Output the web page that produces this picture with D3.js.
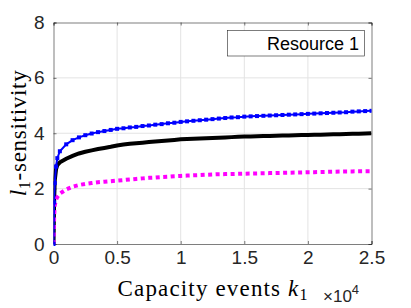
<!DOCTYPE html>
<html>
<head>
<meta charset="utf-8">
<script src="https://cdn.jsdelivr.net/npm/d3@7"></script>
<style>
  body { margin: 0; background: #fff; }
  svg { display: block; }
</style>
</head>
<body>
<div class="canvas"></div>
<script>
// capacity events k1 (raw counts, axis shows them x 10^4)
var kEvents = [0, 50, 100, 200, 300,
  500, 1000, 1500, 2000, 2500, 3000, 3500, 4000, 4500, 5000,
  5500, 6000, 6500, 7000, 7500, 8000, 8500, 9000, 9500, 10000,
  10500, 11000, 11500, 12000, 12500, 13000, 13500, 14000, 14500, 15000,
  15500, 16000, 16500, 17000, 17500, 18000, 18500, 19000, 19500, 20000,
  20500, 21000, 21500, 22000, 22500, 23000, 23500, 24000, 24500, 25000];

// l1-sensitivity, three curves
var blueVals = [0, 1.5, 2.2, 2.8, 3.1,
  3.35, 3.6, 3.75, 3.85, 3.93, 3.99, 4.04, 4.08, 4.12, 4.16,
  4.18, 4.21, 4.23, 4.26, 4.28, 4.31, 4.33, 4.36, 4.38, 4.41,
  4.43, 4.45, 4.47, 4.49, 4.51, 4.53, 4.55, 4.57, 4.58, 4.6,
  4.61, 4.62, 4.63, 4.64, 4.65, 4.66, 4.67, 4.68, 4.69, 4.7,
  4.71, 4.72, 4.73, 4.74, 4.75, 4.76, 4.78, 4.79, 4.8, 4.81];
var blackVals = [0, 1.6, 2.3, 2.7, 2.85,
  2.95, 3.08, 3.18, 3.27, 3.33, 3.38, 3.43, 3.47, 3.51, 3.56,
  3.59, 3.62, 3.64, 3.66, 3.68, 3.7, 3.72, 3.74, 3.76, 3.78,
  3.79, 3.8, 3.81, 3.82, 3.83, 3.84, 3.85, 3.86, 3.87, 3.88,
  3.885, 3.89, 3.9, 3.905, 3.91, 3.915, 3.92, 3.93, 3.935, 3.94,
  3.945, 3.95, 3.955, 3.96, 3.965, 3.97, 3.98, 3.985, 3.99, 4.0];
var magentaVals = [0, 1.0, 1.4, 1.6, 1.7,
  1.82, 1.97, 2.07, 2.13, 2.17, 2.2, 2.23, 2.25, 2.27, 2.29,
  2.31, 2.33, 2.35, 2.37, 2.39, 2.4, 2.42, 2.43, 2.45, 2.46,
  2.47, 2.48, 2.49, 2.5, 2.51, 2.52, 2.525, 2.53, 2.535, 2.54,
  2.545, 2.55, 2.555, 2.56, 2.565, 2.57, 2.575, 2.58, 2.585, 2.59,
  2.595, 2.6, 2.605, 2.61, 2.615, 2.62, 2.622, 2.625, 2.628, 2.63];

var xTicks = [0, 5000, 10000, 15000, 20000, 25000];
var yTicks = [0, 2, 4, 6, 8];
var legendLabel = "Resource 1";

var svgWidth = 411, svgHeight = 308;
// plot box edges (note: "top" is taken by window.top, so use px names)
var pxLeft = 53.5, pxRight = 371.5, pxTop = 22.5, pxBottom = 244;
var axisColor = "#262626";
var sans = "'Liberation Sans', Arial, sans-serif";
var serif = "'Liberation Serif', 'Times New Roman', serif";

const svg = d3.select(".canvas").append("svg")
    .attr("width", svgWidth)
    .attr("height", svgHeight);

var x = d3.scaleLinear().domain([0, 25000]).range([pxLeft, pxRight]);
var y = d3.scaleLinear().domain([0, 8]).range([pxBottom, pxTop]);

// grid lines
svg.append("g").selectAll("line")
    .data(xTicks.slice(1, -1))
    .enter().append("line")
    .attr("x1", d => x(d)).attr("x2", d => x(d))
    .attr("y1", pxTop).attr("y2", pxBottom)
    .attr("stroke", "#e3e3e3").attr("stroke-width", 1);
svg.append("g").selectAll("line")
    .data(yTicks.slice(1, -1))
    .enter().append("line")
    .attr("y1", d => y(d)).attr("y2", d => y(d))
    .attr("x1", pxLeft).attr("x2", pxRight)
    .attr("stroke", "#e3e3e3").attr("stroke-width", 1);

// axes (ticks point inward like matlab)
svg.append("g")
    .attr("transform", "translate(0," + pxBottom + ")")
    .call(d3.axisBottom(x).tickValues(xTicks).tickSize(-3).tickPadding(7)
          .tickFormat(d => d / 10000));
svg.append("g")
    .attr("transform", "translate(0," + pxTop + ")")
    .call(d3.axisTop(x).tickValues(xTicks).tickSize(-3).tickFormat(""));
svg.append("g")
    .attr("transform", "translate(" + pxLeft + ",0)")
    .call(d3.axisLeft(y).tickValues(yTicks).tickSize(-3).tickPadding(9));
svg.append("g")
    .attr("transform", "translate(" + pxRight + ",0)")
    .call(d3.axisRight(y).tickValues(yTicks).tickSize(-3).tickFormat(""));

svg.selectAll(".domain").attr("stroke", axisColor).attr("stroke-width", 0.6);
svg.selectAll(".tick line").attr("stroke", axisColor).attr("stroke-width", 0.6);
svg.selectAll(".tick text")
    .attr("fill", axisColor)
    .style("font-family", sans)
    .style("font-size", "19px");

// clip the curves to the plot box
svg.append("clipPath").attr("id", "plotclip")
    .append("rect")
    .attr("x", pxLeft).attr("y", pxTop)
    .attr("width", pxRight - pxLeft).attr("height", pxBottom - pxTop + 2);

var plot = svg.append("g").attr("clip-path", "url(#plotclip)");

function curve(vals) {
    return d3.line()
        .x((d, i) => x(kEvents[i]))
        .y(d => y(d))(vals);
}

plot.append("path")
    .attr("d", curve(blackVals))
    .attr("fill", "none")
    .attr("stroke", "#000")
    .attr("stroke-width", 4);

plot.append("path")
    .attr("d", curve(magentaVals))
    .attr("fill", "none")
    .attr("stroke", "#ff00ff")
    .attr("stroke-width", 4)
    .attr("stroke-dasharray", "4,3.5");

plot.append("path")
    .attr("d", curve(blueVals))
    .attr("fill", "none")
    .attr("stroke", "#0000ff")
    .attr("stroke-width", 2);

plot.selectAll("rect.mark")
    .data(blueVals)
    .enter().append("rect")
    .attr("class", "mark")
    .attr("x", (d, i) => x(kEvents[i]) - 2)
    .attr("y", d => y(d) - 2)
    .attr("width", 4).attr("height", 4)
    .attr("fill", "#0000ff");

// legend
svg.append("rect")
    .attr("x", 227.5).attr("y", 30.5)
    .attr("width", 137).attr("height", 25.5)
    .attr("fill", "#fff")
    .attr("stroke", axisColor).attr("stroke-width", 0.6);
svg.append("text")
    .text(legendLabel)
    .attr("x", 359).attr("y", 50)
    .attr("text-anchor", "end")
    .attr("fill", "#000")
    .style("font-family", sans)
    .style("font-size", "18px");

// x label
var xl = svg.append("text")
    .attr("x", (pxLeft + pxRight) / 2).attr("y", 296)
    .attr("text-anchor", "middle")
    .attr("textLength", 190)
    .attr("lengthAdjust", "spacing")
    .attr("fill", "#000")
    .style("font-family", serif)
    .style("font-size", "23px");
xl.append("tspan").text("Capacity events ");
xl.append("tspan").text("k").style("font-style", "italic");
xl.append("tspan").text("1").attr("dy", 4).style("font-size", "16px");

// x 10^4 multiplier
var mult = svg.append("text")
    .attr("x", 323).attr("y", 302)
    .attr("fill", axisColor)
    .style("font-family", sans)
    .style("font-size", "17px");
mult.append("tspan").text("\u00d710");
mult.append("tspan").text("4").attr("dy", -8).style("font-size", "13px");

// y label
var yl = svg.append("text")
    .attr("transform", "translate(26," + ((pxTop + pxBottom) / 2) + ") rotate(-90)")
    .attr("text-anchor", "middle")
    .attr("textLength", 126)
    .attr("lengthAdjust", "spacing")
    .attr("fill", "#000")
    .style("font-family", serif)
    .style("font-size", "23px");
yl.append("tspan").text("l").style("font-style", "italic");
yl.append("tspan").text("1").attr("dy", 4).style("font-size", "16px");
yl.append("tspan").text("-sensitivity").attr("dy", -4);
</script>
</body>
</html>
